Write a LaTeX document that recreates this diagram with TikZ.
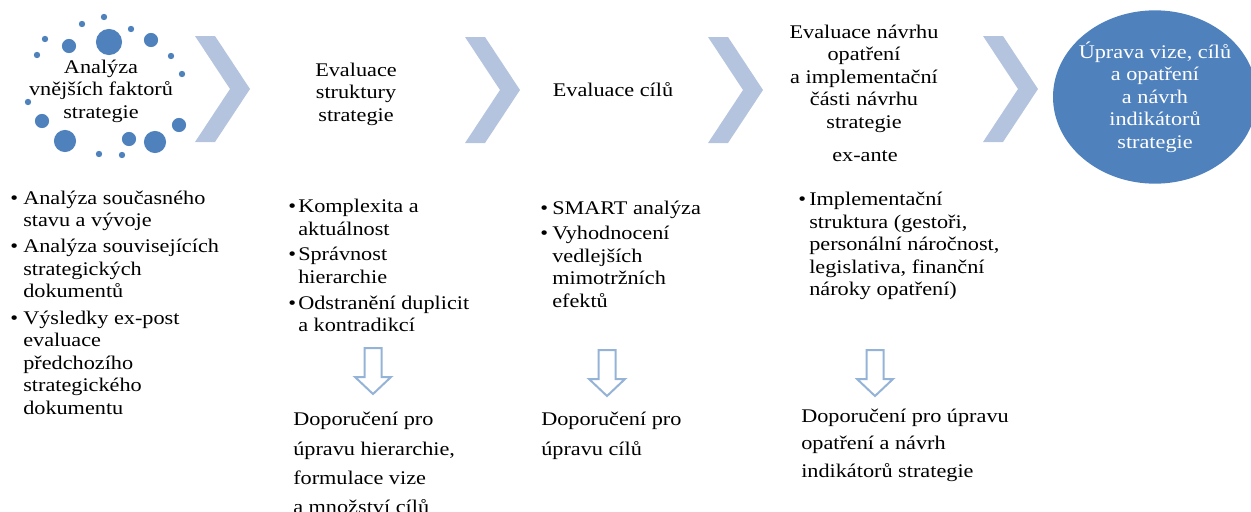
\documentclass[tikz,border=0pt]{standalone}
\usepackage{fontspec}
\setmainfont{Liberation Serif}[FakeStretch=1.15]
\usepackage{array}
\usetikzlibrary{shapes.geometric}
\definecolor{chevblue}{RGB}{180,196,222}
\definecolor{dotblue}{RGB}{79,129,189}
\definecolor{arrblue}{RGB}{149,179,215}
\newcommand{\bodyfont}{\fontsize{14.5}{16.9}\selectfont}
\newcommand{\recfont}{\fontsize{14.5}{22}\selectfont}
\newcommand{\bl}{\textbullet}
\begin{document}
\begin{tikzpicture}[x=0.75pt,y=-0.75pt,
  txt/.style={inner sep=0pt,font=\bodyfont},
  head/.style={txt,anchor=north},
  list/.style={txt,anchor=north west},
  rec/.style={inner sep=0pt,font=\recfont,anchor=north west},
  dot/.style={fill=dotblue},
  chevron/.pic={\fill[chevblue] (0,0) -- (20,0) -- (55,53) -- (20,106) -- (0,106) -- (35,53) -- cycle;},
  downarrow/.pic={\draw[arrblue,line width=1.5pt,line join=miter] (-8.5,0) -- (8.5,0) -- (8.5,29) -- (18,29) -- (0,46) -- (-18,29) -- (-8.5,29) -- cycle;}
]
\useasboundingbox (0,0) rectangle (1251,511);

% dots around first heading
\fill[dot] (104,17) circle[radius=2.4pt];
\fill[dot] (82,24) circle[radius=2.4pt];
\fill[dot] (131,29) circle[radius=2.4pt];
\fill[dot] (45,39) circle[radius=2.4pt];
\fill[dot] (109,42) circle[radius=9.8pt];
\fill[dot] (69,46) circle[radius=5.3pt];
\fill[dot] (151,40) circle[radius=5.3pt];
\fill[dot] (37,55) circle[radius=2.4pt];
\fill[dot] (171,56) circle[radius=2.4pt];
\fill[dot] (182,74) circle[radius=2.4pt];
\fill[dot] (28,102) circle[radius=2.4pt];
\fill[dot] (42,121) circle[radius=5.3pt];
\fill[dot] (179,125) circle[radius=5.3pt];
\fill[dot] (65,141) circle[radius=8.3pt];
\fill[dot] (129,139) circle[radius=5.3pt];
\fill[dot] (155,142) circle[radius=8.3pt];
\fill[dot] (99,154) circle[radius=2.4pt];
\fill[dot] (122,155) circle[radius=2.4pt];

% chevrons
\pic at (195,36) {chevron};
\pic at (465,37) {chevron};
\pic at (708,37) {chevron};
\pic at (983,36) {chevron};

% goal ellipse
\node[ellipse,fill=dotblue,inner sep=0pt,minimum width=153pt,minimum height=130pt] (goal) at (1155,97) {};

% headings
\node[head] (h1) at (101,57.2) {\begin{tabular}{@{}c@{}}Analýza\\vnějších faktorů\\strategie\end{tabular}};
\node[head] (h2) at (356,60.2) {\begin{tabular}{@{}c@{}}Evaluace\\struktury\\strategie\end{tabular}};
\node[head] (h3) at (613,80.2) {\begin{tabular}{@{}c@{}}Evaluace cílů\end{tabular}};
\node[head] (h4) at (864,22.2) {\begin{tabular}{@{}c@{}}Evaluace návrhu\\opatření\\a implementační\\části návrhu\\strategie\end{tabular}};
\node[head] (h4b) at (865,145.2) {\begin{tabular}{@{}c@{}}ex-ante\end{tabular}};
\node[head,text=white] (h5) at (1155,41.2) {\begin{tabular}{@{}c@{}}Úprava vize, cílů\\a opatření\\a návrh\\indikátorů\\strategie\end{tabular}};

% bullet lists
\node[list] (l1) at (10,188) {\begin{tabular}{@{}p{9.75pt}@{}l@{}}
\bl & Analýza současného\\
 & stavu a vývoje\\[2.8pt]
\bl & Analýza souvisejících\\
 & strategických\\
 & dokumentů\\[2.8pt]
\bl & Výsledky ex-post\\
 & evaluace\\
 & předchozího\\
 & strategického\\
 & dokumentu
\end{tabular}};
\node[list] (l2) at (288,196.5) {\begin{tabular}{@{}p{7.5pt}@{}l@{}}
\bl & Komplexita a\\
 & aktuálnost\\[2.5pt]
\bl & Správnost\\
 & hierarchie\\[2.5pt]
\bl & Odstranění duplicit\\
 & a kontradikcí
\end{tabular}};
\node[list] (l3) at (540,198) {\begin{tabular}{@{}p{9pt}@{}l@{}}
\bl & SMART analýza\\[2.5pt]
\bl & Vyhodnocení\\
 & vedlejších\\
 & mimotržních\\
 & efektů
\end{tabular}};
\node[list] (l4) at (798,189.5) {\begin{tabular}{@{}p{8.25pt}@{}l@{}}
\bl & Implementační\\
 & struktura (gestoři,\\
 & personální náročnost,\\
 & legislativa, finanční\\
 & nároky opatření)
\end{tabular}};

% down arrows
\pic at (373,348) {downarrow};
\pic at (607,350) {downarrow};
\pic at (875,350) {downarrow};

% recommendations
\node[rec] (r2) at (293,405) {\begin{tabular}{@{}l@{}}Doporučení pro\\úpravu hierarchie,\\formulace vize\\a množství cílů\end{tabular}};
\node[rec] (r3) at (541,405) {\begin{tabular}{@{}l@{}}Doporučení pro\\úpravu cílů\end{tabular}};
\node[rec,font=\fontsize{14.5}{20.8}\selectfont] (r4) at (801,402.5) {\begin{tabular}{@{}l@{}}Doporučení pro úpravu\\opatření a návrh\\indikátorů strategie\end{tabular}};
\end{tikzpicture}
\end{document}
